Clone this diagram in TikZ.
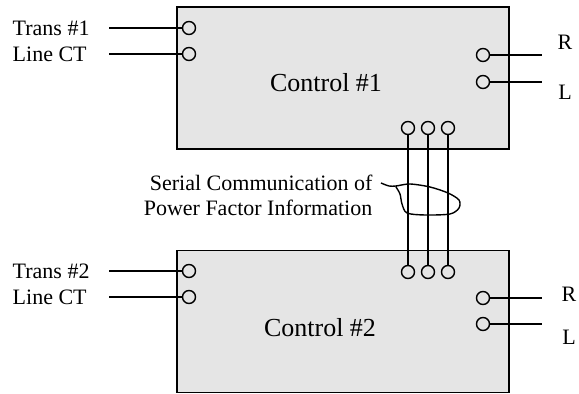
\documentclass[tikz,border=0pt]{standalone}
\usepackage{fontspec}
\setmainfont{Liberation Serif}
\definecolor{boxgray}{gray}{0.9}
\begin{document}
\begin{tikzpicture}[x=0.5pt,y=-0.5pt,line width=0.7pt,
                    term/.style={circle,draw,fill=boxgray,inner sep=0pt,minimum size=6.5pt},
                    lbl/.style={inner sep=0pt,font=\fontsize{11}{13}\selectfont},
                    ctrl/.style={draw,fill=boxgray,inner sep=0pt,minimum width=166pt,minimum height=71pt}]
  \useasboundingbox (0,0) rectangle (579,394);
  % two controllers, tied together by three serial lines
  \node[ctrl] (c1) at (343,78) {};
  \node[ctrl] (c2) at (343,321.5) {};
  \node[lbl,font=\fontsize{13}{15}\selectfont] (name1) at (326,83) {Control \#1};
  \node[lbl,font=\fontsize{13}{15}\selectfont] (name2) at (320,328) {Control \#2};
  % terminals
  \node[term] (t1)  at (189,28) {};
  \node[term] (ct1) at (189,54) {};
  \node[term] (r1)  at (483,55) {};
  \node[term] (l1)  at (483,82) {};
  \node[term] (t2)  at (189,271) {};
  \node[term] (ct2) at (189,297) {};
  \node[term] (r2)  at (483,298) {};
  \node[term] (l2)  at (483,324) {};
  \foreach \i/\x in {a/408,b/428,c/448}{
    \node[term] (up\i) at (\x,128) {};
    \node[term] (dn\i) at (\x,272) {};
    \draw (up\i) -- (dn\i);}
  % inputs on the left
  \node[lbl,anchor=west] (trans1) at (12,28) {Trans \#1};
  \node[lbl,anchor=west] (line1)  at (12,54) {Line CT};
  \node[lbl,anchor=west] (trans2) at (12,271) {Trans \#2};
  \node[lbl,anchor=west] (line2)  at (12,297) {Line CT};
  \foreach \n/\y in {t1/28,ct1/54,t2/271,ct2/297}{
    \coordinate (in-\n) at (109,\y);
    \draw (in-\n) -- (\n);}
  % outputs on the right
  \foreach \n/\y in {r1/55,l1/82,r2/298,l2/324}{
    \coordinate (out-\n) at (542,\y);
    \draw (\n) -- (out-\n);}
  \node[lbl] (rlab1) at (565,42) {R};
  \node[lbl] (llab1) at (565,92) {L};
  \node[lbl] (rlab2) at (569,294) {R};
  \node[lbl] (llab2) at (569,337) {L};
  % note on the serial lines
  \node[lbl,inner sep=4pt,anchor=east] (serial1) at (381,183) {Serial Communication of};
  \node[lbl,inner sep=4pt,anchor=east] (serial2) at (381,208) {Power Factor Information};
  \draw plot[smooth,tension=0.5] coordinates {(serial1.east) (389,186) (396,186) (410,184)
        (430,187) (448,193) (459,200) (459,208) (450,214) (425,215) (407,213)
        (402,204) (400,194) (396,187)};
\end{tikzpicture}
\end{document}
